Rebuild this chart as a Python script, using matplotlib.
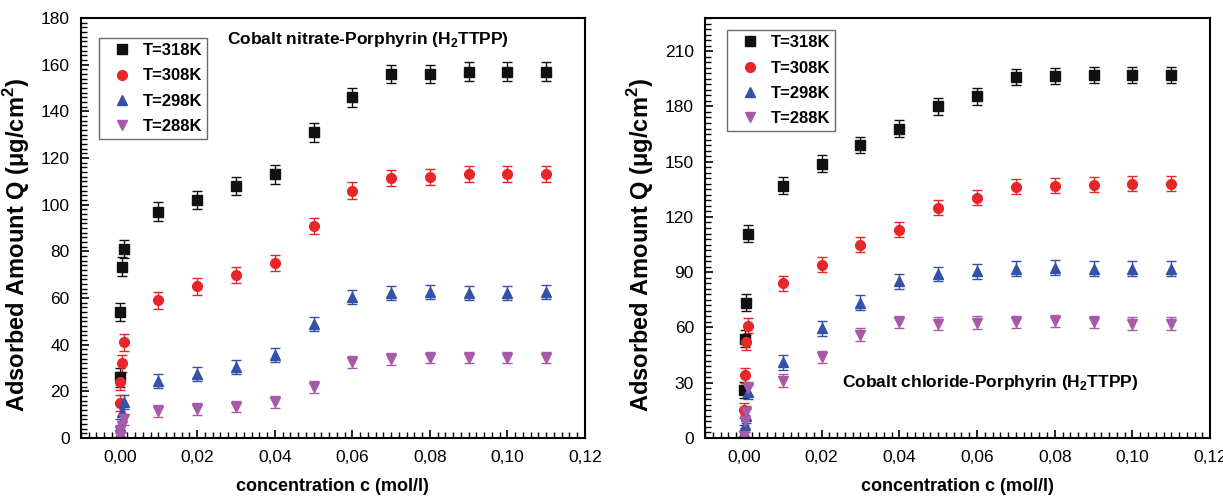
"""Adsorption isotherms of H2TTPP with cobalt nitrate / cobalt chloride at four temperatures."""
import matplotlib
matplotlib.use("Agg")
import matplotlib.pyplot as plt
from matplotlib.ticker import MultipleLocator, FuncFormatter

plt.rcParams["font.family"] = ["Liberation Sans", "DejaVu Sans"]
plt.rcParams["mathtext.fontset"] = "custom"
plt.rcParams["mathtext.rm"] = "Liberation Sans"
plt.rcParams["mathtext.bf"] = "Liberation Sans:bold"

# concentrations (mol/l): four near-zero points, then 0.01 .. 0.11
conc = [0.0001, 0.0002, 0.0005, 0.001,
        0.01, 0.02, 0.03, 0.04, 0.05, 0.06, 0.07, 0.08, 0.09, 0.10, 0.11]
temps = ["T=318K", "T=308K", "T=298K", "T=288K"]

# cobalt nitrate panel
nit_318 = [26, 54, 73.5, 81, 97, 102, 108, 113, 131, 146, 156, 156, 157, 157, 157]
nit_308 = [15, 24, 32, 41, 59, 65, 70, 75, 91, 106, 111.5, 112, 113, 113, 113]
nit_298 = [2, 5, 11, 15.5, 24.5, 27.5, 30.5, 35.5, 49, 60.5, 62, 62.5, 62, 62, 62.5]
nit_288 = [1, 3, 5, 8, 11.5, 12.5, 13.5, 15.5, 22, 32.5, 34, 34.5, 34.5, 34.5, 34.5]
nit_err = [4, 3.5, 3, 2.5]

# cobalt chloride panel
chl_318 = [26, 54, 73.5, 111, 137, 149, 159, 168, 180, 185.5, 196, 196.5, 197, 197, 197]
chl_308 = [15, 34, 52, 61, 84, 94, 105, 113, 125, 130.5, 136.5, 137, 137.5, 138, 138]
chl_298 = [3, 7, 12, 25, 41, 59.5, 73.5, 85, 89, 90.5, 92, 92.5, 92, 92, 92]
chl_288 = [1, 9, 14, 27, 31, 44, 56, 63, 62, 62.5, 63, 63.5, 63, 62, 62]
chl_err = [4.5, 4, 4, 3.5]

colors = ["#111111", "#e8262a", "#3550a8", "#a85aa8"]
markers = ["s", "o", "^", "v"]


def panel(ax, series, errs, ymax, ymajor, yminor, note, note_xy, leg_anchor):
    handles = []
    for y, e, c, m in zip(series, errs, colors, markers):
        cont = ax.errorbar(conc, y, yerr=e, fmt=m, color=c, ms=7, mec=c,
                           ecolor=c, elinewidth=1, capsize=3.5, capthick=1)
        handles.append(cont[0])
    ax.set_xlim(-0.01, 0.12)
    ax.set_ylim(0, ymax)
    ax.xaxis.set_major_locator(MultipleLocator(0.02))
    ax.xaxis.set_minor_locator(MultipleLocator(0.002))
    ax.yaxis.set_major_locator(MultipleLocator(ymajor))
    ax.yaxis.set_minor_locator(MultipleLocator(yminor))
    ax.xaxis.set_major_formatter(FuncFormatter(lambda v, p: f"{v:.2f}".replace(".", ",")))
    ax.tick_params(which="both", direction="in", top=False, right=False, labelsize=12.5)
    ax.tick_params(which="major", length=6, width=1.2)
    ax.tick_params(which="minor", length=4, width=1)
    ax.tick_params(axis="x", pad=9)
    ax.tick_params(axis="y", pad=8)
    for s in ax.spines.values():
        s.set_linewidth(1.5)
    ax.set_xlabel("concentration c (mol/l)", fontsize=13, fontweight="bold", labelpad=9)
    ax.set_ylabel("Adsorbed Amount Q (μg/cm$^\\mathbf{2}$)", fontsize=17, fontweight="bold")
    ax.yaxis.set_label_coords(-0.097, 0.46)
    ax.text(note_xy[0], note_xy[1], note, transform=ax.transAxes, ha="center",
            va="center", fontsize=12.5, fontweight="bold")
    leg = ax.legend(handles, temps, loc="upper left", bbox_to_anchor=leg_anchor,
                    borderaxespad=0, fontsize=12, frameon=True, fancybox=False,
                    edgecolor="#444444", handletextpad=0.2, labelspacing=0.62,
                    borderpad=0.3, handlelength=2.1)
    leg.get_frame().set_linewidth(1)
    for t in leg.get_texts():
        t.set_fontweight("bold")


fig = plt.figure(figsize=(12.23, 5), dpi=100)
ax1 = fig.add_axes([0.0662, 0.124, 0.412, 0.84])
ax2 = fig.add_axes([0.5765, 0.124, 0.413, 0.84])

panel(ax1, [nit_318, nit_308, nit_298, nit_288], nit_err, 180, 20, 2,
      "Cobalt nitrate-Porphyrin (H$_\\mathbf{2}$TTPP)", (0.57, 0.948), (0.036, 0.952))
panel(ax2, [chl_318, chl_308, chl_298, chl_288], chl_err, 228, 30, 3,
      "Cobalt chloride-Porphyrin (H$_\\mathbf{2}$TTPP)", (0.564, 0.131), (0.044, 0.971))

fig.savefig("out.png", dpi=100)
